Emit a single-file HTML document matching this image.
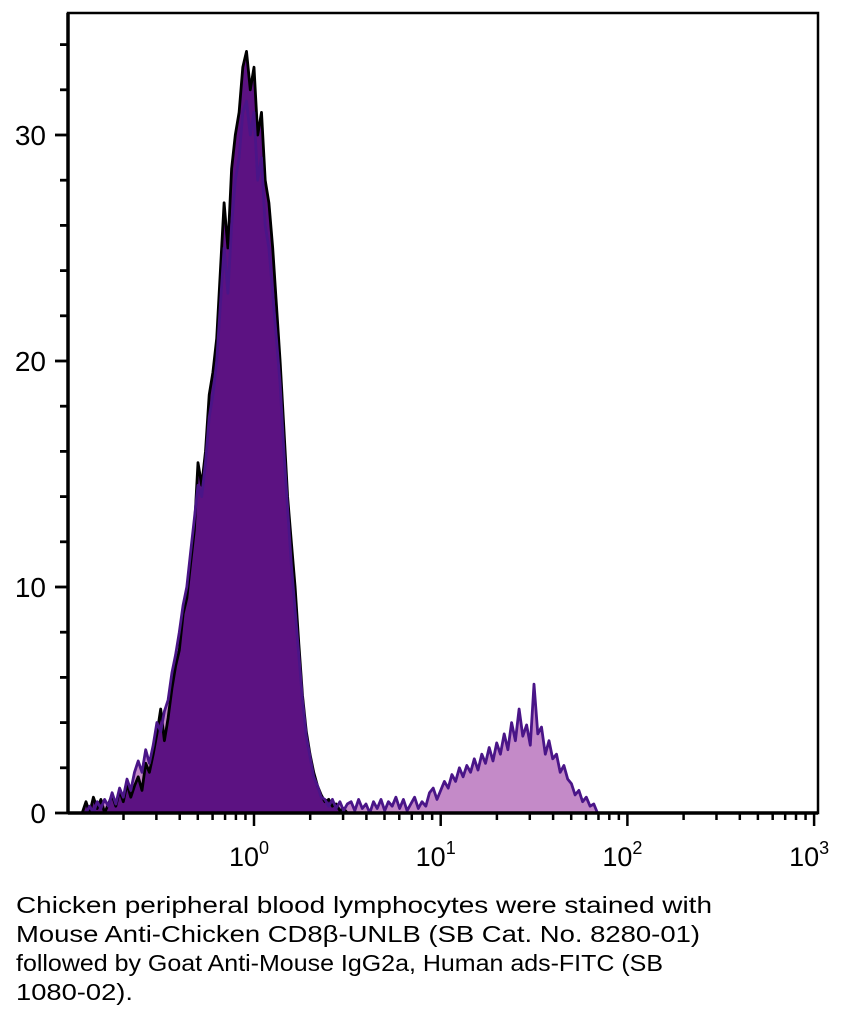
<!DOCTYPE html>
<html><head><meta charset="utf-8"><style>
html,body{margin:0;padding:0;background:#fff;}
svg{display:block;font-family:"Liberation Sans",sans-serif;}
</style></head><body>
<svg id="chart" width="845" height="1020" viewBox="0 0 845 1020" xmlns="http://www.w3.org/2000/svg">
<g id="fills"></g><g id="lines"></g><g id="axes"></g>
<g font-size="23" fill="#000">
<text x="16" y="913" textLength="696" lengthAdjust="spacingAndGlyphs">Chicken peripheral blood lymphocytes were stained with</text>
<text x="16" y="942" textLength="684" lengthAdjust="spacingAndGlyphs">Mouse Anti-Chicken CD8β-UNLB (SB Cat. No. 8280-01)</text>
<text x="16" y="971" textLength="647" lengthAdjust="spacingAndGlyphs">followed by Goat Anti-Mouse IgG2a, Human ads-FITC (SB</text>
<text x="16" y="1000" textLength="117" lengthAdjust="spacingAndGlyphs">1080-02).</text>
</g>
</svg>
<script>
const binStart = -0.92;
const binStep = 0.02;
const controlCounts = [0,0.5,0,0.7,0.2,0.6,0,0.4,0.8,0.3,1.0,0.5,1.3,0.7,1.2,1.6,
1.0,2.2,1.8,2.6,3.5,4.6,3.2,4.2,5.5,6.5,
7.2,8.8,9.5,11.0,12.5,15.5,14.5,16.0,18.5,19.5,
21,24,27,25,28.5,30,31,33,33.7,32,
33,30,31,28,27,25,22.5,20,17,14,
12,10,7.5,5.2,3.6,2.6,1.8,1.2,0.8,0.5,
0.6,0.3,0.4,0.1,0.2,0,
0,0,0,0,0,0,0,0,0,0,0,0,0,0,0,0,0,0,0,0,0,0,0,0,0,0,0,0,0,0,0,0,0,0,0,0,0,0,0,0,0,0,0,0,0,0,0,0,0,0,0,0,0,0,0,0,0,0,0,0,0,0,0,0,0,0,0];
const stainedCounts = [0,0,0.3,0,0.5,0.2,0.6,0.3,0.9,0.4,1.1,0.7,1.5,1.0,1.8,2.3,
1.8,2.8,2.2,3.0,4.0,3.6,4.5,5.0,6.2,7.0,
8.0,9.2,10.0,11.5,13.0,14.5,14.0,15.5,17.5,18.5,
20,22.5,25,23,26,28,29,31,31.5,30,
31,28,29,26,25,23,21,19,16,13.5,
11,9,7,5,3.4,2.5,1.6,1.2,0.7,0.6,
0.3,0.6,0.2,0.5,0.1,0.4,
0.5,0.1,0.6,0.2,0.4,0,0.5,0.2,0.6,0.1,0.5,0.3,0.7,0.2,0.6,0.1,0.4,0.7,0.2,0.5,
0.3,0.9,1.1,0.6,1.0,1.4,1.1,1.7,1.4,2.0,
1.6,2.1,1.8,2.4,1.9,2.6,2.2,2.9,2.3,3.1,
2.6,3.5,2.8,4.0,3.2,4.6,3.4,3.9,3.0,5.7,
3.5,3.8,2.6,3.2,2.4,2.6,1.8,2.1,1.5,1.3,
0.8,1.0,0.5,0.7,0.3,0.4,0];
const yTicks = [0,10,20,30];
const yTickLabels = ["0","10","20","30"];
const xDecades = [0,1,2,3];

const L=68,R=818,T=13,B=813;
const xs = lg => 254 + lg*186.7;
const ys = v => B - v*22.6;
const NS="http://www.w3.org/2000/svg";
function mk(tag,parent,attrs){const e=document.createElementNS(NS,tag);for(const k in attrs)e.setAttribute(k,attrs[k]);parent.appendChild(e);return e;}
const fills=document.getElementById('fills'),lines=document.getElementById('lines'),axes=document.getElementById('axes');
function pts(arr){return arr.map((v,i)=>xs(binStart+i*binStep).toFixed(1)+','+ys(v).toFixed(1)).join(' ');}
function area(arr){const x0=xs(binStart),x1=xs(binStart+(arr.length-1)*binStep);return x0+','+B+' '+pts(arr)+' '+x1+','+B;}

const sf=mk('polygon',fills,{points:area(stainedCounts),fill:'#c48ac8'});


const cf=mk('polygon',fills,{points:area(controlCounts),fill:'#5c1282'});


const cl=mk('polyline',lines,{points:pts(controlCounts),fill:'none',stroke:'#000','stroke-width':2.8,'stroke-linejoin':'round'});


const sl=mk('polyline',lines,{points:pts(stainedCounts),fill:'none',stroke:'#4a1588','stroke-width':2.8,'stroke-linejoin':'round'});



const frame=mk('rect',axes,{x:L,y:T,width:R-L,height:B-T,fill:'none',stroke:'#000','stroke-width':2.5});


const xaxis=mk('line',axes,{x1:L,x2:R,y1:B,y2:B,stroke:'#000','stroke-width':3.5});


const yaxis=mk('line',axes,{x1:L,x2:L,y1:T,y2:B,stroke:'#000','stroke-width':3.5});


for(let v=0;v<=34;v+=2){
  const major=v%10===0;
  const t=mk('line',axes,{x1:L-(major?13:8),x2:L,y1:ys(v),y2:ys(v),stroke:'#000','stroke-width':2.8});
  
  
}
yTicks.forEach((v,i)=>{
  const t=mk('text',axes,{x:L-22,y:ys(v)+10,'text-anchor':'end','font-size':28});
  t.textContent=yTickLabels[i];
  
  
});
for(let d=-1;d<3;d++){
  for(let m=1;m<10;m++){
    const lg=d+Math.log10(m);const x=xs(lg);
    if(x<L+2)continue;
    const t=mk('line',axes,{x1:x,x2:x,y1:B,y2:B+(m===1?13:7),stroke:'#000','stroke-width':2.5});
    
    
  }
}
{const t=mk('line',axes,{x1:xs(3),x2:xs(3),y1:B,y2:B+13,stroke:'#000','stroke-width':2.5});

}
xDecades.forEach(d=>{
  const t=mk('text',axes,{x:xs(d)-5,y:866,'text-anchor':'middle','font-size':27});
  t.textContent='10';
  const s=mk('tspan',t,{dy:-12,'font-size':18});
  s.textContent=String(d);
  
  
});
</script>
</body></html>
